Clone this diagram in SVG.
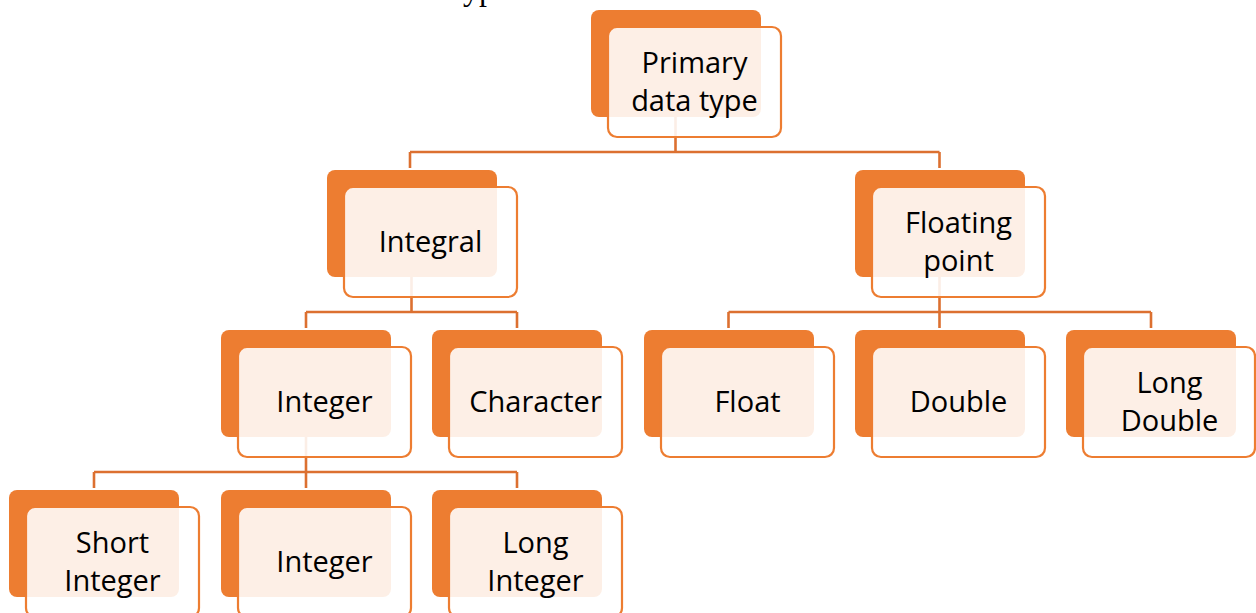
<svg xmlns="http://www.w3.org/2000/svg" width="1256" height="613" viewBox="0 0 1256 613">
  <defs>
    <style>
      .back { fill: #ED7D31; }
      .front { fill: #FFFFFF; fill-opacity: 0.88; stroke: #ED7D31; stroke-width: 2.2; }
      .label { font-family: "Open Sans", "Noto Sans", sans-serif; font-size: 29px; fill: #000000; text-anchor: middle; }
      .conn { fill: none; stroke: #DC7030; stroke-width: 2.6; }
      .title { font-family: "Liberation Serif", serif; font-size: 32px; fill: #000000; }
    </style>
  </defs>
  <rect width="1256" height="613" fill="#FFFFFF"/>

  <!-- heading, mostly above the top edge -->
  <text class="title" x="454" y="0">types</text>

  <!-- connectors (drawn first so the translucent boxes sit over them) -->
  <g id="connectors" class="conn">
    <path d="M675.5,117 V152 M410,152 H939.5 M410,152 V168 M939.5,152 V168"/>
    <path d="M411.5,277 V312 M306,312 H517 M306,312 V328 M517,312 V328"/>
    <path d="M939.5,277 V312 M728.5,312 H1151 M728.5,312 V328 M939.5,312 V328 M1151,312 V328"/>
    <path d="M306,437 V472 M94,472 H517 M94,472 V488 M306,472 V488 M517,472 V488"/>
  </g>

  <g id="primary">
    <rect class="back" x="591" y="10" width="170" height="107" rx="8"/>
    <rect class="front" x="608" y="27" width="173" height="110" rx="9"/>
    <text class="label" x="694.5" y="73">Primary</text>
    <text class="label" x="694.5" y="111">data type</text>
  </g>

  <g id="integral">
    <rect class="back" x="327" y="170" width="170" height="107" rx="8"/>
    <rect class="front" x="344" y="187" width="173" height="110" rx="9"/>
    <text class="label" x="430.5" y="252">Integral</text>
  </g>

  <g id="floating-point">
    <rect class="back" x="855" y="170" width="170" height="107" rx="8"/>
    <rect class="front" x="872" y="187" width="173" height="110" rx="9"/>
    <text class="label" x="958.5" y="233">Floating</text>
    <text class="label" x="958.5" y="271">point</text>
  </g>

  <g id="integer">
    <rect class="back" x="221" y="330" width="170" height="107" rx="8"/>
    <rect class="front" x="238" y="347" width="173" height="110" rx="9"/>
    <text class="label" x="324.5" y="412">Integer</text>
  </g>

  <g id="character">
    <rect class="back" x="432" y="330" width="170" height="107" rx="8"/>
    <rect class="front" x="449" y="347" width="173" height="110" rx="9"/>
    <text class="label" x="535.5" y="412">Character</text>
  </g>

  <g id="float">
    <rect class="back" x="644" y="330" width="170" height="107" rx="8"/>
    <rect class="front" x="661" y="347" width="173" height="110" rx="9"/>
    <text class="label" x="747.5" y="412">Float</text>
  </g>

  <g id="double">
    <rect class="back" x="855" y="330" width="170" height="107" rx="8"/>
    <rect class="front" x="872" y="347" width="173" height="110" rx="9"/>
    <text class="label" x="958.5" y="412">Double</text>
  </g>

  <g id="long-double">
    <rect class="back" x="1066" y="330" width="170" height="107" rx="8"/>
    <rect class="front" x="1083" y="347" width="172" height="110" rx="9"/>
    <text class="label" x="1169.5" y="393">Long</text>
    <text class="label" x="1169.5" y="431">Double</text>
  </g>

  <g id="short-integer">
    <rect class="back" x="9" y="490" width="170" height="107" rx="8"/>
    <rect class="front" x="26" y="507" width="173" height="110" rx="9"/>
    <text class="label" x="112.5" y="553">Short</text>
    <text class="label" x="112.5" y="591">Integer</text>
  </g>

  <g id="integer-2">
    <rect class="back" x="221" y="490" width="170" height="107" rx="8"/>
    <rect class="front" x="238" y="507" width="173" height="110" rx="9"/>
    <text class="label" x="324.5" y="572">Integer</text>
  </g>

  <g id="long-integer">
    <rect class="back" x="432" y="490" width="170" height="107" rx="8"/>
    <rect class="front" x="449" y="507" width="173" height="110" rx="9"/>
    <text class="label" x="535.5" y="553">Long</text>
    <text class="label" x="535.5" y="591">Integer</text>
  </g>
</svg>
